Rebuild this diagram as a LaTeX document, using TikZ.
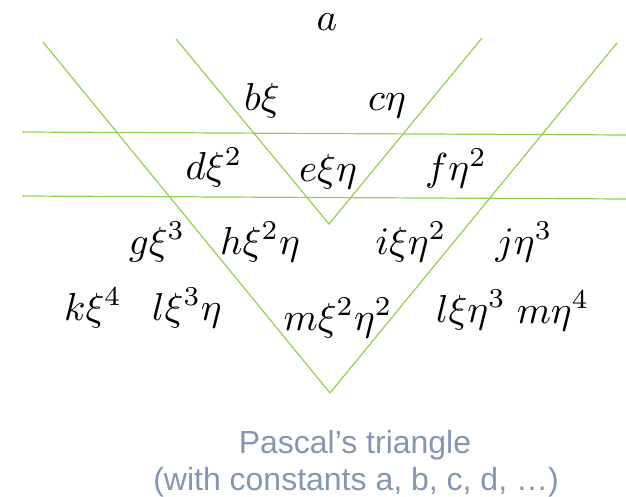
\documentclass[tikz,border=0pt]{standalone}
\usepackage{fontspec}
\newfontfamily\capfont{Liberation Sans}
\usepackage{tikz}
\definecolor{vgreen}{HTML}{92D050}
\definecolor{capgrey}{HTML}{8497B0}

\begin{document}
\begin{tikzpicture}[
  x=1pt, y=-1pt,
  term/.style={anchor=base, inner sep=0pt, scale=3.9},
  vline/.style={draw=vgreen, line width=1.2pt},
  captext/.style={anchor=base, inner sep=0pt, text=capgrey,
              font=\capfont\fontsize{32}{38}\selectfont}
]
  \useasboundingbox (0,0) rectangle (626,497);

  % guide lines
  \coordinate (ol) at (43,42);
  \coordinate (oa) at (330,393);
  \coordinate (or) at (617,43);
  \coordinate (il) at (176,39);
  \coordinate (ia) at (329,224);
  \coordinate (ir) at (482,38);
  \coordinate (h1l) at (22,132);
  \coordinate (h1r) at (626,135);
  \coordinate (h2l) at (22,196);
  \coordinate (h2r) at (626,199);

  \draw[vline] (ol) -- (oa) -- (or);
  \draw[vline] (il) -- (ia) -- (ir);
  \draw[vline] (h1l) -- (h1r);
  \draw[vline] (h2l) -- (h2r);

  % terms
  \node[term] (a) at (327,31) {$a$};
  \node[term] (b) at (262,111) {$b\xi$};
  \node[term] (c) at (387,111) {$c\eta$};
  \node[term] (d) at (214,180) {$d\xi^2$};
  \node[term] (e) at (328,182) {$e\xi\eta$};
  \node[term] (f) at (456,181) {$f\eta^2$};
  \node[term] (g) at (157,254) {$g\xi^3$};
  \node[term] (h) at (260,254) {$h\xi^2\eta$};
  \node[term] (i) at (411,254) {$i\xi\eta^2$};
  \node[term] (j) at (524,254) {$j\eta^3$};
  \node[term] (k) at (93,320) {$k\xi^4$};
  \node[term] (l) at (187,320) {$l\xi^3\eta$};
  \node[term] (m) at (338,330) {$m\xi^2\eta^2$};
  \node[term] (l2) at (471,322) {$l\xi\eta^3$};
  \node[term] (m2) at (553,323) {$m\eta^4$};

  % caption
  \node[captext] (cap1) at (355,453) {Pascal’s triangle};
  \node[captext] (cap2) at (356,490) {(with constants a, b, c, d, …)};
\end{tikzpicture}
\end{document}
